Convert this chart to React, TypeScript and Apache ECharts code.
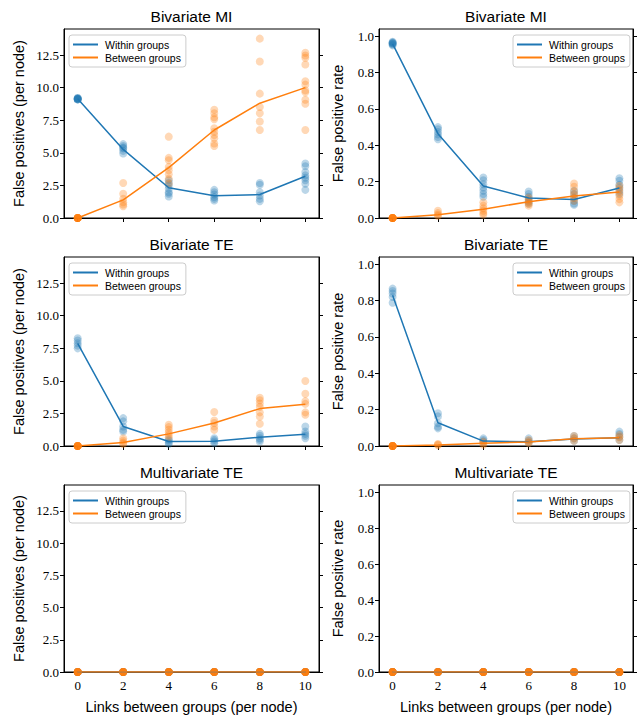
import React, { useEffect, useRef } from "react";
import * as echarts from "echarts";

const xLinks = [0, 2, 4, 6, 8, 10];
const countTicks = [0, 2.5, 5, 7.5, 10, 12.5];
const rateTicks = [0, 0.2, 0.4, 0.6, 0.8, 1.0];
const rowTitles = ["Bivariate MI", "Bivariate TE", "Multivariate TE"];
const legendNames = ["Within groups", "Between groups"];

// Bivariate MI: counts (per node)
const miCountWithinMean = [9.15, 5.26, 2.32, 1.7, 1.8, 3.2];
const miCountBetweenMean = [0, 1.39, 3.87, 6.75, 8.81, 10.0];
const miCountWithinPts = [
  [9.1, 9.15, 9.2, 9.15, 9.1, 9.2, 9.15, 9.1],
  [5.67, 5.52, 5.34, 5.15, 4.95, 5.4],
  [2.89, 2.68, 2.5, 2.24, 1.98, 1.86, 1.65],
  [2.16, 1.98, 1.8, 1.6, 1.47, 1.34],
  [2.68, 2.55, 1.98, 1.73, 1.47, 1.29],
  [4.18, 3.97, 3.53, 3.27, 3.09, 2.89, 2.63, 2.16],
];
const miCountBetweenPts = [
  [0, 0, 0, 0, 0, 0, 0, 0, 0, 0],
  [2.68, 1.86, 1.47, 1.21, 1.03, 0.9],
  [6.24, 4.61, 4.43, 3.92, 3.66, 3.35, 3.02, 2.63],
  [8.3, 8.04, 7.73, 7.58, 6.88, 6.62, 6.37, 6.11, 5.72, 5.52],
  [13.76, 12.01, 9.54, 8.51, 8.04, 7.4, 6.75],
  [12.68, 12.47, 12.29, 11.78, 10.49, 10.23, 9.79, 9.64, 9.07, 8.76, 6.75],
];

// Bivariate MI: rates
const miRateWithinMean = [0.958, 0.464, 0.176, 0.11, 0.102, 0.165];
const miRateBetweenMean = [0, 0.018, 0.048, 0.09, 0.121, 0.143];
const miRateWithinPts = [
  [0.97, 0.965, 0.96, 0.955, 0.95, 0.96, 0.965],
  [0.5, 0.488, 0.473, 0.46, 0.446, 0.433],
  [0.223, 0.208, 0.186, 0.168, 0.15, 0.132, 0.117],
  [0.146, 0.132, 0.117, 0.104, 0.091, 0.08],
  [0.15, 0.132, 0.113, 0.095, 0.08, 0.073],
  [0.219, 0.205, 0.183, 0.168, 0.15, 0.132],
];
const miRateBetweenPts = [
  [0, 0, 0, 0, 0, 0, 0, 0, 0, 0],
  [0.04, 0.027, 0.018, 0.011],
  [0.086, 0.068, 0.053, 0.04, 0.027, 0.018],
  [0.113, 0.099, 0.086, 0.077, 0.068],
  [0.19, 0.172, 0.146, 0.128, 0.11, 0.095],
  [0.177, 0.159, 0.141, 0.122, 0.104, 0.086],
];

// Bivariate TE: counts
const teCountWithinMean = [7.88, 1.5, 0.34, 0.36, 0.67, 0.9];
const teCountBetweenMean = [0, 0.26, 0.93, 1.76, 2.87, 3.2];
const teCountWithinPts = [
  [8.27, 8.09, 7.88, 7.7, 7.49],
  [2.14, 1.89, 1.5, 1.24, 1.11],
  [0.52, 0.41, 0.26, 0.16],
  [0.59, 0.47, 0.34, 0.21],
  [0.93, 0.78, 0.59, 0.47, 0.34],
  [1.5, 1.11, 0.93, 0.78, 0.59],
];
const teCountBetweenPts = [
  [0, 0, 0, 0, 0, 0, 0, 0, 0, 0],
  [0.59, 0.41, 0.26, 0.16],
  [1.63, 1.45, 1.24, 1.03, 0.85, 0.67],
  [2.61, 1.96, 1.76, 1.5, 1.24],
  [3.7, 3.51, 3.26, 3.0, 2.58, 2.27, 1.71],
  [4.99, 4.01, 3.44, 3.23, 2.58, 2.4],
];

// Bivariate TE: rates
const teRateWithinMean = [0.83, 0.128, 0.027, 0.024, 0.038, 0.046];
const teRateBetweenMean = [0, 0.005, 0.015, 0.022, 0.04, 0.046];
const teRateWithinPts = [
  [0.866, 0.853, 0.839, 0.82, 0.788],
  [0.18, 0.163, 0.125, 0.106, 0.097],
  [0.042, 0.033, 0.024],
  [0.042, 0.029, 0.018],
  [0.055, 0.042, 0.029],
  [0.079, 0.066, 0.051, 0.033],
];
const teRateBetweenPts = [
  [0, 0, 0, 0, 0, 0, 0, 0, 0, 0],
  [0.011, 0.004, 0.008],
  [0.024, 0.015, 0.007],
  [0.033, 0.022, 0.015],
  [0.055, 0.042, 0.029],
  [0.06, 0.048, 0.033],
];

// Multivariate TE: all zero
const mteWithinMean = [0, 0, 0, 0, 0, 0];
const mteBetweenMean = [0, 0, 0, 0, 0, 0];
const mteWithinPts = [[0, 0, 0], [0, 0, 0], [0, 0, 0], [0, 0, 0], [0, 0, 0], [0, 0, 0]];
const mteBetweenPts = [
  [0, 0, 0, 0, 0, 0, 0, 0, 0, 0],
  [0, 0, 0, 0, 0, 0, 0, 0, 0, 0],
  [0, 0, 0, 0, 0, 0, 0, 0, 0, 0],
  [0, 0, 0, 0, 0, 0, 0, 0, 0, 0],
  [0, 0, 0, 0, 0, 0, 0, 0, 0, 0],
  [0, 0, 0, 0, 0, 0, 0, 0, 0, 0],
];

const BLUE = "#1f77b4";
const ORANGE = "#ff7f0e";

const panels = [
  { wMean: miCountWithinMean, bMean: miCountBetweenMean, wPts: miCountWithinPts, bPts: miCountBetweenPts, rate: false },
  { wMean: miRateWithinMean, bMean: miRateBetweenMean, wPts: miRateWithinPts, bPts: miRateBetweenPts, rate: true },
  { wMean: teCountWithinMean, bMean: teCountBetweenMean, wPts: teCountWithinPts, bPts: teCountBetweenPts, rate: false },
  { wMean: teRateWithinMean, bMean: teRateBetweenMean, wPts: teRateWithinPts, bPts: teRateBetweenPts, rate: true },
  { wMean: mteWithinMean, bMean: mteBetweenMean, wPts: mteWithinPts, bPts: mteBetweenPts, rate: false },
  { wMean: mteWithinMean, bMean: mteBetweenMean, wPts: mteWithinPts, bPts: mteBetweenPts, rate: true },
];

const SANS = "'Liberation Sans', 'DejaVu Sans', sans-serif";
const SERIF = "'Liberation Serif', 'DejaVu Serif', serif";
const colLeft = [64, 379];
const colWidth = [255, 254];
const rowTop = [29, 257, 485];
const GH = 189;

function buildOption() {
  const grid: any[] = [];
  const xAxis: any[] = [];
  const yAxis: any[] = [];
  const series: any[] = [];
  const legend: any[] = [];
  const graphic: any[] = [];

  panels.forEach((p, i) => {
    const row = Math.floor(i / 2);
    const col = i % 2;
    const left = colLeft[col];
    const GW = colWidth[col];
    const top = rowTop[row];
    grid.push({ left, top, width: GW, height: GH, show: true, borderColor: "#000", borderWidth: 1, backgroundColor: "transparent" });
    graphic.push({
      type: "text",
      x: left + GW / 2,
      y: top - 13,
      style: {
        text: rowTitles[row],
        x: 0,
        y: 0,
        align: "center",
        verticalAlign: "middle",
        fontFamily: SANS,
        fontSize: 15.5,
        fontWeight: "normal",
        fill: "#000",
      },
    });
    const bottomRow = row === 2;
    xAxis.push({
      type: "value",
      gridIndex: i,
      min: -0.6,
      max: 10.6,
      splitLine: { show: false },
      axisLine: { show: true, onZero: false, lineStyle: { color: "#000", width: 1 } },
      axisTick: { show: true, customValues: xLinks, length: 4, lineStyle: { color: "#000" } },
      axisLabel: {
        show: bottomRow,
        customValues: xLinks,
        fontFamily: SERIF,
        fontSize: 13,
        color: "#000",
        margin: 7,
      },
      name: bottomRow ? "Links between groups (per node)" : "",
      nameLocation: "middle",
      nameGap: 27,
      nameTextStyle: { fontFamily: SANS, fontSize: 14.5, color: "#000" },
    });
    const ticks = p.rate ? rateTicks : countTicks;
    const ymax = p.rate ? 1.04 : 14.5;
    yAxis.push({
      type: "value",
      gridIndex: i,
      position: "left",
      min: 0,
      max: ymax,
      splitLine: { show: false },
      axisLine: { show: true, onZero: false, lineStyle: { color: "#000", width: 1 } },
      axisTick: { show: true, customValues: ticks, length: 4, lineStyle: { color: "#000" } },
      axisLabel: {
        customValues: ticks,
        formatter: (v: number) => v.toFixed(1),
        fontFamily: SERIF,
        fontSize: 13,
        color: "#000",
        margin: 5,
      },
      name: p.rate ? "False positive rate" : "False positives (per node)",
      nameLocation: "middle",
      nameGap: p.rate ? 34 : 38,
      nameRotate: 90,
      nameTextStyle: { fontFamily: SANS, fontSize: 14.5, color: "#000" },
    });
    yAxis.push({
      type: "value",
      gridIndex: i,
      position: "right",
      min: 0,
      max: ymax,
      splitLine: { show: false },
      axisLine: { show: true, onZero: false, lineStyle: { color: "#000", width: 1 } },
      axisTick: { show: true, customValues: ticks, length: 4, lineStyle: { color: "#000" } },
      axisLabel: { show: false },
    });
    const toPts = (pts: number[][]) =>
      pts.flatMap((vals, k) => vals.map((v) => [xLinks[k], v]));
    const yIdx = 2 * i;
    series.push({
      type: "scatter",
      name: "within-pts-" + i,
      xAxisIndex: i,
      yAxisIndex: yIdx,
      data: toPts(p.wPts),
      symbolSize: 8,
      itemStyle: { color: BLUE, opacity: 0.3 },
      silent: true,
    });
    series.push({
      type: "line",
      name: legendNames[0],
      xAxisIndex: i,
      yAxisIndex: yIdx,
      data: p.wMean.map((v, k) => [xLinks[k], v]),
      showSymbol: false,
      lineStyle: { color: BLUE, width: 1.5 },
      itemStyle: { color: BLUE },
    });
    series.push({
      type: "scatter",
      name: "between-pts-" + i,
      xAxisIndex: i,
      yAxisIndex: yIdx,
      data: toPts(p.bPts),
      symbolSize: 8,
      itemStyle: { color: ORANGE, opacity: 0.3 },
      silent: true,
    });
    series.push({
      type: "line",
      name: legendNames[1],
      xAxisIndex: i,
      yAxisIndex: yIdx,
      data: p.bMean.map((v, k) => [xLinks[k], v]),
      showSymbol: false,
      lineStyle: { color: ORANGE, width: 1.5 },
      itemStyle: { color: ORANGE },
    });
    const legendPos: any = col === 0 ? { left: left + 5 } : { left: left + GW - 4 - 116 };
    legend.push({
      ...legendPos,
      top: top + 6,
      orient: "vertical",
      data: legendNames.map((n) => ({ name: n, icon: "rect" })),
      itemWidth: 25,
      itemHeight: 2,
      itemGap: 2,
      padding: [4, 5, 4, 4],
      borderColor: "#ccc",
      borderWidth: 1,
      borderRadius: 3,
      backgroundColor: "rgba(255,255,255,0.8)",
      textStyle: { fontFamily: SANS, fontSize: 10.5, color: "#000", padding: [0, 0, 0, 2] },
      selectedMode: false,
    });
  });

  return { animation: false, backgroundColor: "#fff", grid, xAxis, yAxis, series, legend, graphic };
}

export default function App() {
  const ref = useRef<HTMLDivElement>(null);
  useEffect(() => {
    if (!ref.current) return;
    const chart = echarts.init(ref.current, undefined, { renderer: "svg" });
    chart.setOption(buildOption() as any);
    return () => chart.dispose();
  }, []);
  return (
    <div
      ref={ref}
      style={{ position: "fixed", left: 0, top: 0, width: 641, height: 715, background: "#fff" }}
    />
  );
}
